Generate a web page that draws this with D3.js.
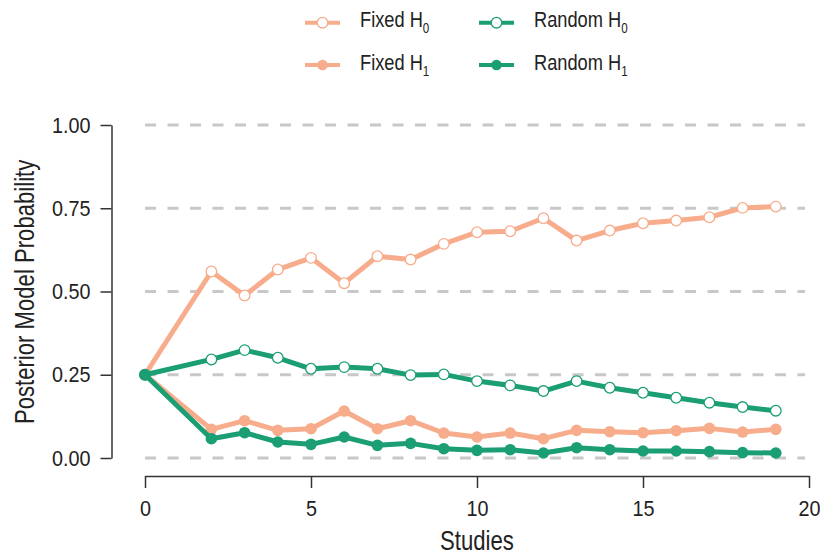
<!DOCTYPE html>
<html>
<head>
<meta charset="utf-8">
<script src="https://cdn.jsdelivr.net/npm/d3@7"></script>
<style>
  body { margin: 0; background: #fff; }
  svg { font-family: "Liberation Sans", Arial, sans-serif; }
  svg text { transform-box: fill-box; }
</style>
</head>
<body>
<div id="chart"></div>
<script>
// data
const studies = [0, 2, 3, 4, 5, 6, 7, 8, 9, 10, 11, 12, 13, 14, 15, 16, 17, 18, 19];
const fixedH0 = [0.25, 0.560, 0.488, 0.566, 0.601, 0.525, 0.606, 0.596, 0.643, 0.678, 0.681, 0.720, 0.653, 0.683, 0.705, 0.713, 0.723, 0.751, 0.755];
const fixedH1 = [0.25, 0.086, 0.112, 0.083, 0.088, 0.141, 0.088, 0.112, 0.075, 0.063, 0.075, 0.058, 0.083, 0.079, 0.076, 0.082, 0.089, 0.078, 0.086];
const randomH0 = [0.25, 0.296, 0.324, 0.301, 0.268, 0.273, 0.268, 0.249, 0.251, 0.231, 0.218, 0.201, 0.231, 0.211, 0.196, 0.181, 0.166, 0.153, 0.142];
const randomH1 = [0.25, 0.058, 0.076, 0.048, 0.041, 0.063, 0.038, 0.044, 0.028, 0.023, 0.025, 0.015, 0.031, 0.025, 0.021, 0.021, 0.019, 0.016, 0.015];
const xTicks = [0, 5, 10, 15, 20];
const yTicks = [0, 0.25, 0.5, 0.75, 1];

const salmon = '#f7ac8c';
const green = '#1b9e74';
const ink = '#222';

const width = 820, height = 554;

const svg = d3.select('#chart')
  .append('svg')
  .attr('width', width)
  .attr('height', height);

const x = d3.scaleLinear().domain([0, 20]).range([145, 809]);
const y = d3.scaleLinear().domain([0, 1]).range([458, 125]);

// dashed gridlines
svg.append('g')
  .selectAll('line')
  .data(yTicks)
  .enter()
  .append('line')
  .attr('x1', x(0))
  .attr('x2', 805)
  .attr('y1', d => y(d))
  .attr('y2', d => y(d))
  .attr('stroke', '#c8c8c8')
  .attr('stroke-width', 3)
  .attr('stroke-dasharray', '11,11.5');

// y axis
const yAxis = svg.append('g')
  .attr('transform', 'translate(111.5,0)')
  .call(d3.axisLeft(y).tickValues(yTicks).tickFormat(d3.format('.2f')).tickSize(11).tickSizeOuter(0).tickPadding(10));

// x axis
const xAxis = svg.append('g')
  .attr('transform', 'translate(0,476)')
  .call(d3.axisBottom(x).tickValues(xTicks).tickSize(12).tickSizeOuter(0).tickPadding(12));

[yAxis, xAxis].forEach(ax => {
  ax.select('.domain').attr('stroke', '#333').attr('stroke-width', 1.5);
  ax.selectAll('.tick line').attr('stroke', '#333').attr('stroke-width', 1.5);
  ax.selectAll('.tick text')
    .style('font-size', '22px')
    .style('font-family', '"Liberation Sans", Arial, sans-serif')
    .attr('fill', ink);
});
yAxis.selectAll('.tick text')
  .style('transform-origin', '100% 50%')
  .style('transform', 'scaleX(0.9)');
xAxis.selectAll('.tick text')
  .style('transform-origin', '50% 50%')
  .style('transform', 'scaleX(0.9)');

// axis titles
svg.append('g')
  .attr('transform', 'translate(33.5,292) rotate(-90)')
  .append('text')
  .attr('text-anchor', 'middle')
  .style('font-size', '27px')
  .style('transform-origin', '50% 50%')
  .style('transform', 'scaleX(0.82)')
  .attr('fill', ink)
  .text('Posterior Model Probability');

svg.append('text')
  .attr('x', 477)
  .attr('y', 550)
  .attr('text-anchor', 'middle')
  .style('font-size', '27px')
  .style('transform-origin', '50% 50%')
  .style('transform', 'scaleX(0.82)')
  .attr('fill', ink)
  .text('Studies');

// series
const series = [
  { name: 'Fixed', sub: '0', values: fixedH0, color: salmon, open: true },
  { name: 'Fixed', sub: '1', values: fixedH1, color: salmon, open: false },
  { name: 'Random', sub: '0', values: randomH0, color: green, open: true },
  { name: 'Random', sub: '1', values: randomH1, color: green, open: false }
];

const line = d3.line()
  .x(d => x(d.s))
  .y(d => y(d.v));

series.forEach(sr => {
  const pts = studies.map((s, i) => ({ s: s, v: sr.values[i] }));
  const g = svg.append('g');
  g.append('path')
    .datum(pts)
    .attr('d', line)
    .attr('fill', 'none')
    .attr('stroke', sr.color)
    .attr('stroke-width', 5)
    .attr('stroke-linejoin', 'round');
  g.selectAll('circle')
    .data(pts)
    .enter()
    .append('circle')
    .attr('cx', d => x(d.s))
    .attr('cy', d => y(d.v))
    .attr('r', sr.open ? 5.3 : 5.8)
    .attr('fill', sr.open ? '#fff' : sr.color)
    .attr('stroke', sr.color)
    .attr('stroke-width', sr.open ? 1.3 : 0);
});

// legend
const legendPos = [
  { x: 305, y: 22.7 }, { x: 305, y: 65 },
  { x: 479, y: 22.7 }, { x: 479, y: 65 }
];

series.forEach((sr, i) => {
  const p = legendPos[i];
  const lg = svg.append('g').attr('transform', `translate(${p.x},${p.y})`);
  lg.append('line')
    .attr('x1', 0).attr('x2', 35)
    .attr('y1', 0).attr('y2', 0)
    .attr('stroke', sr.color)
    .attr('stroke-width', 4);
  lg.append('circle')
    .attr('cx', 17.5).attr('cy', 0)
    .attr('r', 5.3)
    .attr('fill', sr.open ? '#fff' : sr.color)
    .attr('stroke', sr.color)
    .attr('stroke-width', sr.open ? 1.3 : 0);
  const t = lg.append('text')
    .attr('x', 55)
    .attr('y', 4.6)
    .style('font-size', '22px')
    .style('transform-origin', '0% 50%')
    .style('transform', 'scaleX(0.83)')
    .attr('fill', ink)
    .text(sr.name + ' H');
  t.append('tspan')
    .attr('dy', 6)
    .style('font-size', '14px')
    .text(sr.sub);
});
</script>
</body>
</html>
